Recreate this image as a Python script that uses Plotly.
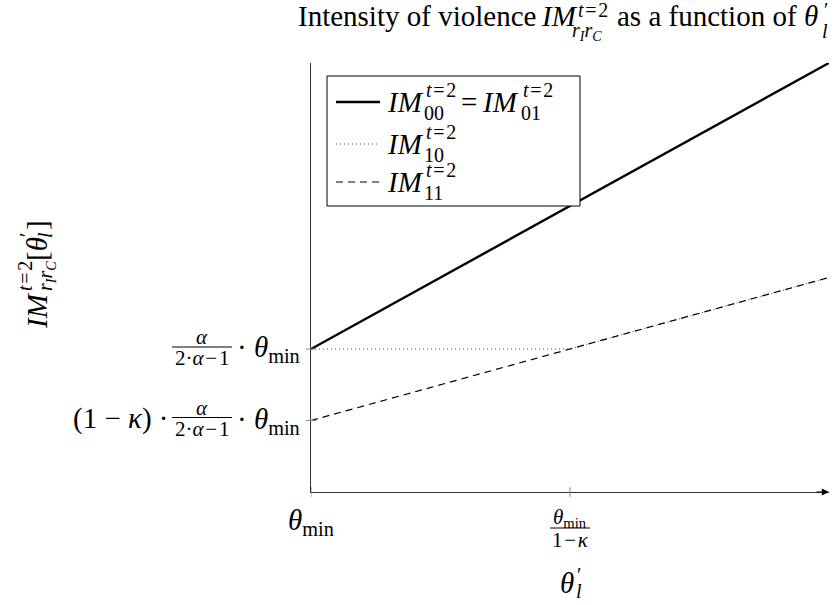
import plotly.graph_objects as go

# theta_l' positions: theta_min, theta_min/(1-kappa), right end of the axis
theta = [1, 2, 3]
# Intensity of violence for each (r_I, r_C) regime
im_00 = [1, 2, 3]        # IM_00 = IM_01 (solid)
im_10 = [1, 1, 1.5]      # IM_10 (dotted)
im_11 = [0.5, 1, 1.5]    # IM_11 (dashed)

x_ticks = [1, 2]
y_ticks = [0.5, 1]

W, H = 840, 605
L, R, T, B = 311, 829, 63, 492
FONT = '"Liberation Serif", "Times New Roman", "DejaVu Serif", serif'
BIG, SMALL = 29, 20
T2 = "<i>t</i>\u200a=\u200a2"

fig = go.Figure()
fig.add_trace(go.Scatter(x=theta, y=im_10, mode="lines",
                         line=dict(color="#444", width=1, dash="1px,3px")))
fig.add_trace(go.Scatter(x=theta, y=im_11, mode="lines",
                         line=dict(color="black", width=1.2, dash="7px,5px")))
fig.add_trace(go.Scatter(x=theta, y=im_00, mode="lines",
                         line=dict(color="black", width=2.4)))


def px(x):
    return (x - L) / (R - L)


def py(y):
    return (B - y) / (B - T)


def ann(text, xp, yp, size, xanchor="left", angle=0, **kw):
    d = dict(text=text, showarrow=False, xanchor=xanchor, yanchor="middle",
             textangle=angle, font=dict(family=FONT, size=size, color="black"))
    if "xref" not in kw:
        d.update(xref="paper", x=px(xp))
    if "yref" not in kw:
        d.update(yref="paper", y=py(yp))
    d.update(kw)
    fig.add_annotation(**d)


# ---- title ----
ann("Intensity of violence", 296, 16, BIG)
ann("<i>IM</i>", 539, 16, BIG)
ann(T2, 576, 10, SMALL)
ann("<i>r</i><sub><i>I</i></sub><i>r</i><sub><i>C</i></sub>", 570, 31, SMALL)
ann("as a function of", 615, 16, BIG)
ann("<i>θ</i>", 802, 16, BIG)
ann("′", 822, 10, SMALL)
ann("<i>l</i>", 820, 31, SMALL)

# ---- y-axis title (rotated) ----
ann("<i>IM</i>", 37, 311, BIG, xanchor="center", angle=-90)
ann(T2, 25, 276, SMALL, xanchor="center", angle=-90)
ann("<i>r</i><sub><i>I</i></sub><i>r</i><sub><i>C</i></sub>", 46, 276, SMALL,
    xanchor="center", angle=-90)
ann("[<i>θ</i>", 37, 249, BIG, xanchor="center", angle=-90)
ann("′", 27, 235, SMALL, xanchor="center", angle=-90)
ann("<i>l</i>", 45, 235, SMALL, xanchor="center", angle=-90)
ann("]", 37, 225, BIG, xanchor="center", angle=-90)

# ---- x-axis title ----
ann("<i>θ</i>", 567, 583, BIG, xanchor="center")
ann("′", 575, 575, SMALL)
ann("<i>l</i>", 574, 591, SMALL)

# ---- x tick labels ----
ann("<i>θ</i><sub>min</sub>", 0, 522, BIG, xanchor="center", xref="x", x=x_ticks[0])
ann("<i>θ</i><sub>min</sub>", 0, 518, SMALL + 1, xanchor="center", xref="x", x=x_ticks[1])
fig.add_shape(type="line", xref="x", xsizemode="pixel", xanchor=x_ticks[1],
              x0=-20, x1=20, yref="paper", y0=py(528), y1=py(528),
              line=dict(color="black", width=1))
ann("1\u200a−\u200a<i>κ</i>", 0, 540, SMALL + 1, xanchor="center", xref="x", x=x_ticks[1])

# ---- y tick labels ----
for v, shift in ((y_ticks[1], 0), (y_ticks[0], 1)):
    ann("<i>α</i>", 202, 0, SMALL + 1, xanchor="center", yref="y", y=v, yshift=12 + shift)
    fig.add_shape(type="line", xref="paper", x0=px(172), x1=px(232),
                  yref="y", ysizemode="pixel", yanchor=v, y0=2 + shift, y1=2 + shift,
                  line=dict(color="black", width=1))
    ann("2·<i>α</i>\u200a−\u200a1", 202, 0, SMALL + 1, xanchor="center", yref="y", y=v,
        yshift=-9 + shift)
    ann("· <i>θ</i><sub>min</sub>", 235, 0, BIG, yref="y", y=v, yshift=0)
ann("(1 − <i>κ</i>) ·", 171, 0, BIG, xanchor="right", yref="y", y=y_ticks[0], yshift=2)

# ---- tick marks crossing the axes ----
for v in x_ticks:
    fig.add_shape(type="line", xref="x", x0=v, x1=v, yref="paper",
                  y0=-5 / (B - T), y1=5 / (B - T), line=dict(color="#888", width=1))
for v in y_ticks:
    fig.add_shape(type="line", yref="y", y0=v, y1=v, xref="paper",
                  x0=-5 / (R - L), x1=5 / (R - L), line=dict(color="#888", width=1))

# ---- arrow on the x axis ----
fig.add_annotation(x=1, y=0, xref="paper", yref="paper", ax=-14, ay=0, text="",
                   showarrow=True, arrowhead=2, arrowsize=1.2, arrowwidth=1.2,
                   arrowcolor="black")

# ---- legend ----
fig.add_shape(type="rect", xref="paper", yref="paper", x0=px(327), x1=px(580),
              y0=py(206), y1=py(76), line=dict(color="black", width=1),
              fillcolor="white", layer="above")
rows = [
    (102, dict(color="black", width=2.4), "00"),
    (144, dict(color="#444", width=1, dash="1px,3px"), "10"),
    (182, dict(color="black", width=1.2, dash="7px,5px"), "11"),
]
for y, style, sub in rows:
    fig.add_shape(type="line", xref="paper", yref="paper", x0=px(336), x1=px(380),
                  y0=py(y), y1=py(y), line=style, layer="above")
    ann("<i>IM</i>", 385, y, BIG)
    ann(T2, 424, y - 12, SMALL)
    ann(sub, 422, y + 11, SMALL)
ann("=", 459, 102, BIG)
ann("<i>IM</i>", 480, 102, BIG)
ann(T2, 521, 90, SMALL)
ann("01", 519, 113, SMALL)

axis_common = dict(showline=True, linecolor="#333", linewidth=1.2, ticks="",
                   showticklabels=False, showgrid=False, zeroline=False, fixedrange=True)
fig.update_layout(
    width=W, height=H,
    margin=dict(l=L, r=W - R, t=T, b=H - B),
    paper_bgcolor="white", plot_bgcolor="white",
    showlegend=False,
    xaxis=dict(range=[1, 3], **axis_common),
    yaxis=dict(range=[0, 3], **axis_common),
)

fig.write_html("out.html")
